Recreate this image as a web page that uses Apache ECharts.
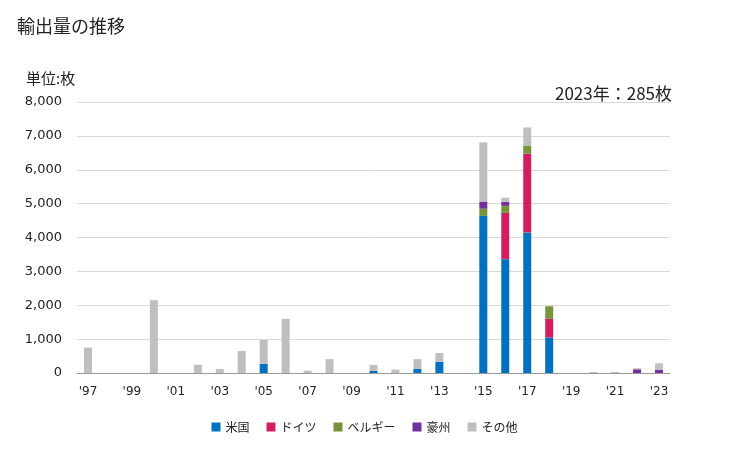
<!DOCTYPE html>
<html><head><meta charset="utf-8">
<script src="https://cdn.jsdelivr.net/npm/echarts@6/dist/echarts.min.js"></script>
<style>html,body{margin:0;padding:0;background:#fff}#c{width:729px;height:450px}</style>
</head><body><div id="c"></div>
<script>
const years = ["'97","'98","'99","'00","'01","'02","'03","'04","'05","'06","'07","'08","'09","'10","'11","'12","'13","'14","'15","'16","'17","'18","'19","'20","'21","'22","'23"];
const usa     = [0,0,0,0,0,0,0,0,270,0,0,0,0,60,0,120,330,0,4640,3360,4150,1050,0,0,0,0,0];
const germany = [0,0,0,0,0,0,0,0,0,0,0,0,0,0,0,0,0,0,0,1365,2325,550,0,0,0,0,0];
const belgium = [0,0,0,0,0,0,0,0,0,0,0,0,0,0,0,0,0,0,210,210,240,370,0,0,0,0,0];
const australia=[0,0,0,0,0,0,0,0,0,0,0,0,0,0,0,0,0,0,210,120,0,0,0,0,0,110,90];
const other   = [750,0,0,2150,0,240,120,650,705,1600,70,410,0,180,100,290,260,0,1750,120,535,0,0,30,30,30,195];
const seriesNames = ['米国','ドイツ','ベルギー','豪州','その他'];
const colors = ['#0070C0','#D31F62','#77933C','#7030A0','#BFBFBF'];
const cjk = '"Noto Sans CJK JP", sans-serif';
const num = '"DejaVu Sans", sans-serif';
const chart = echarts.init(document.getElementById('c'));
const dataSets = [usa, germany, belgium, australia, other];
chart.setOption({
  animation:false,
  textStyle:{fontFamily:cjk},
  title:[
    {text:'輸出量の推移',left:17,top:17,padding:0,textStyle:{fontSize:18,fontWeight:'normal',color:'#222',fontFamily:cjk}},
    {text:'単位:枚',left:26,top:71,padding:0,textStyle:{fontSize:15,fontWeight:'normal',color:'#222',fontFamily:cjk}},
    {text:'2023年：285枚',right:57,top:85,padding:0,textStyle:{fontSize:17,fontWeight:'normal',color:'#222',fontFamily:cjk}}
  ],
  legend:{top:421,left:'center',padding:0,itemWidth:9,itemHeight:9,itemGap:17,icon:'rect',
    textStyle:{fontSize:12,color:'#222',fontFamily:cjk},data:seriesNames},
  grid:{left:77,right:59,top:102,bottom:77},
  xAxis:{type:'category',data:years,
    axisLine:{lineStyle:{color:'#999'}},axisTick:{show:false},
    axisLabel:{interval:1,color:'#222',fontSize:12,margin:13,fontFamily:num}},
  yAxis:{type:'value',min:0,max:8000,interval:1000,
    axisLine:{show:false},axisTick:{show:false},
    splitLine:{lineStyle:{color:'#d9d9d9'}},
    axisLabel:{color:'#222',fontSize:13,margin:15,fontFamily:num,formatter:v=>v.toLocaleString('en-US')}},
  series: seriesNames.map((n,i)=>({name:n,type:'bar',stack:'a',data:dataSets[i],barWidth:8,
    itemStyle:{color:colors[i]}}))
});
</script></body></html>
